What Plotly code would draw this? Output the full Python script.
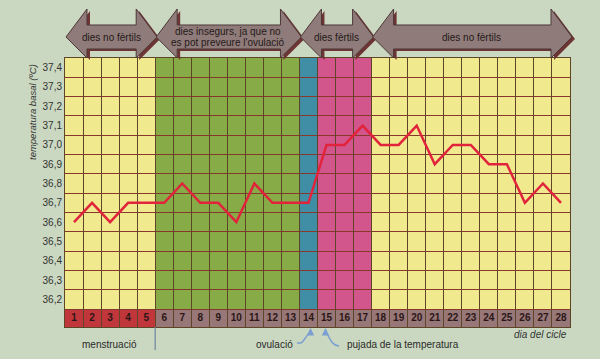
import plotly.graph_objects as go

# ---------------- data ----------------
days = list(range(1, 29))
temps = [36.6, 36.7, 36.6, 36.7, 36.7, 36.7, 36.8, 36.7, 36.7, 36.6,
         36.8, 36.7, 36.7, 36.7, 37.0, 37.0, 37.1, 37.0, 37.0, 37.1,
         36.9, 37.0, 37.0, 36.9, 36.9, 36.7, 36.8, 36.7]
temp_ticks = [36.2, 36.3, 36.4, 36.5, 36.6, 36.7, 36.8, 36.9, 37.0, 37.1, 37.2, 37.3, 37.4]
temp_labels = ["36,2", "36,3", "36,4", "36,5", "36,6", "36,7", "36,8", "36,9",
               "37,0", "37,1", "37,2", "37,3", "37,4"]
# background phases (first day, last day)
phase_days = [(1, 5), (6, 13), (14, 14), (15, 17), (18, 28)]
phase_colors = ["#f1e98d", "#86ab47", "#3f8ea6", "#d2558c", "#f1e98d"]
# arrows at top (first day, last day, text lines)
arrow_phases = [(1, 5, ["dies no fèrtils"]),
                (6, 13, ["dies insegurs, ja que no", "es pot preveure l'ovulació"]),
                (14, 17, ["dies fèrtils"]),
                (18, 28, ["dies no fèrtils"])]
mens_days = (1, 5)
ovul_day = 14
rise_day = 15

# ---------------- layout geometry ----------------
W, H = 600, 359
ML, MR, MT, MB = 65, 30, 58, 32
PW, PH = W - ML - MR, H - MT - MB
Y_TOP = 37.45
Y_PLOT_BOTTOM = 36.15
Y_MIN = 36.057
X_MIN, X_MAX = 0.5, 28.5


def xpx(d):
    return ML + (d - X_MIN) / (X_MAX - X_MIN) * PW


def pxx(px):
    return (px - ML) / PW


def pxy(py):
    return (H - MB - py) / PH


def P(px, py):
    return f"{pxx(px):.5f},{pxy(py):.5f}"


fig = go.Figure()

shapes = []
# background columns
for (a, b), c in zip(phase_days, phase_colors):
    shapes.append(dict(type="rect", xref="x", yref="y", x0=a - 0.5, x1=b + 0.5,
                       y0=Y_PLOT_BOTTOM, y1=Y_TOP, fillcolor=c, line_width=0, layer="below"))
# day-number row
for d in days:
    col = "#c0363b" if mens_days[0] <= d <= mens_days[1] else "#977777"
    shapes.append(dict(type="rect", xref="x", yref="y", x0=d - 0.5, x1=d + 0.5,
                       y0=Y_MIN, y1=Y_PLOT_BOTTOM, fillcolor=col, line_width=0, layer="below"))

# top arrows
def arrow_path(x0, x1, dx=0, dy=0):
    hw = 21
    pts = [(x0, 37), (x0 + hw, 9), (x0 + hw, 25), (x1 - hw, 25), (x1 - hw, 9), (x1, 37),
           (x1 - hw, 58), (x1 - hw, 49), (x0 + hw, 49), (x0 + hw, 58)]
    s = ""
    for i, (px, py) in enumerate(pts):
        s += ("M" if i == 0 else "L") + P(px + dx, py + dy) + " "
    return s + "Z"

for a, b, txt in arrow_phases:
    x0 = xpx(a - 0.5) + 1
    x1 = xpx(b + 0.5) + 2
    shapes.append(dict(type="path", xref="paper", yref="paper", path=arrow_path(x0, x1, 3, 2),
                       fillcolor="#6e3434", line=dict(width=0), layer="above"))
for a, b, txt in arrow_phases:
    x0 = xpx(a - 0.5) + 1
    x1 = xpx(b + 0.5) + 2
    shapes.append(dict(type="path", xref="paper", yref="paper", path=arrow_path(x0, x1),
                       fillcolor="#8f7b79", line=dict(color="#4d3838", width=1), layer="above"))

# separator under menstruació
shapes.append(dict(type="line", xref="x", yref="paper", x0=mens_days[1] + 0.5, x1=mens_days[1] + 0.5,
                   y0=pxy(327), y1=pxy(350), line=dict(color="#6f86a0", width=1.2)))

# curly pointer lines
ov_x = xpx(ovul_day) + 2
ri_x = xpx(rise_day) - 1
shapes.append(dict(type="path", xref="paper", yref="paper",
                   path=f"M{P(297, 343)} C{P(306, 344)} {P(303, 336)} {P(ov_x, 333)}",
                   line=dict(color="#7c9fd2", width=1.5)))
shapes.append(dict(type="path", xref="paper", yref="paper",
                   path=f"M{P(339, 346)} C{P(330, 345)} {P(331, 337)} {P(ri_x, 333)}",
                   line=dict(color="#7c9fd2", width=1.5)))

annotations = []
for a, b, txt in arrow_phases:
    cx = (xpx(a - 0.5) + xpx(b + 0.5)) / 2 + 1
    if len(txt) == 1:
        ys = [37]
    else:
        ys = [32, 43]
    for t, yy in zip(txt, ys):
        annotations.append(dict(text=t, xref="paper", yref="paper", x=pxx(cx), y=pxy(yy),
                                showarrow=False, xanchor="center", yanchor="middle",
                                font=dict(size=10, color="#241a1a")))

annotations += [
    dict(text="menstruació", xref="paper", yref="paper", x=pxx(109), y=pxy(344),
         xanchor="center", yanchor="middle",
         showarrow=False, font=dict(size=10, color="#2a2a2a")),
    dict(text="ovulació", xref="paper", yref="paper", x=pxx(295), y=pxy(344),
         xanchor="right", yanchor="middle",
         showarrow=False, font=dict(size=10, color="#2a2a2a")),
    dict(text="pujada de la temperatura", xref="paper", yref="paper", x=pxx(345), y=pxy(344),
         xanchor="left", yanchor="middle", showarrow=False, font=dict(size=10, color="#2a2a2a")),
    dict(text="<i>dia del cicle</i>", xref="paper", yref="paper", x=pxx(569), y=pxy(334),
         xanchor="right", yanchor="middle", showarrow=False, font=dict(size=10, color="#333333")),
    dict(text="<i>temperatura basal (ºC)</i>", xref="paper", yref="paper", x=pxx(32),
         y=pxy(112), xanchor="center", yanchor="middle", textangle=-90, showarrow=False,
         font=dict(size=9.5, color="#333333")),
    dict(text="", xref="paper", yref="paper", x=pxx(ov_x), y=pxy(328),
         ax=0, ay=7, showarrow=True, arrowhead=2, arrowsize=1, arrowwidth=1.5,
         arrowcolor="#7c9fd2"),
    dict(text="", xref="paper", yref="paper", x=pxx(ri_x), y=pxy(328),
         ax=0, ay=7, showarrow=True, arrowhead=2, arrowsize=1, arrowwidth=1.5,
         arrowcolor="#7c9fd2"),
]

# temperature line
fig.add_trace(go.Scatter(x=days, y=temps, mode="lines",
                         line=dict(color="#e1243c", width=2.5), hoverinfo="skip"))
# day numbers
fig.add_trace(go.Scatter(x=days, y=[(Y_MIN + Y_PLOT_BOTTOM) / 2] * len(days), mode="text",
                         text=[f"<b>{d}</b>" for d in days],
                         textfont=dict(size=10, color="#2b1616", family="Liberation Sans, Arial"),
                         hoverinfo="skip"))

grid_vals = [round(Y_PLOT_BOTTOM + 0.1 * k, 2) for k in range(14)]

fig.update_layout(
    width=W, height=H,
    margin=dict(l=ML, r=MR, t=MT, b=MB, pad=0),
    paper_bgcolor="#cad8c1",
    plot_bgcolor="#f1e98d",
    showlegend=False,
    font=dict(family="Liberation Sans, Arial, sans-serif", size=10, color="#333"),
    shapes=shapes,
    annotations=annotations,
    xaxis=dict(range=[X_MIN, X_MAX], tick0=0.5, dtick=1, showticklabels=False, ticks="",
               showgrid=True, gridcolor="#5e4528", gridwidth=1, zeroline=False,
               showline=True, mirror=True, linecolor="#5e4528", linewidth=1),
    yaxis=dict(range=[Y_MIN, Y_TOP], tickmode="array", tickvals=temp_ticks, ticktext=temp_labels,
               ticks="", showgrid=False, zeroline=False,
               tickfont=dict(size=10, color="#333"),
               minor=dict(tickmode="array", tickvals=grid_vals, showgrid=True,
                          gridcolor="#86392b", gridwidth=1, ticks=""),
               showline=True, mirror=True, linecolor="#5e4528", linewidth=1),
    hovermode=False,
)

fig.write_html("out.html", config={"displayModeBar": False, "staticPlot": True},
               post_script="document.body.style.margin='0';document.body.style.overflow='hidden';")
